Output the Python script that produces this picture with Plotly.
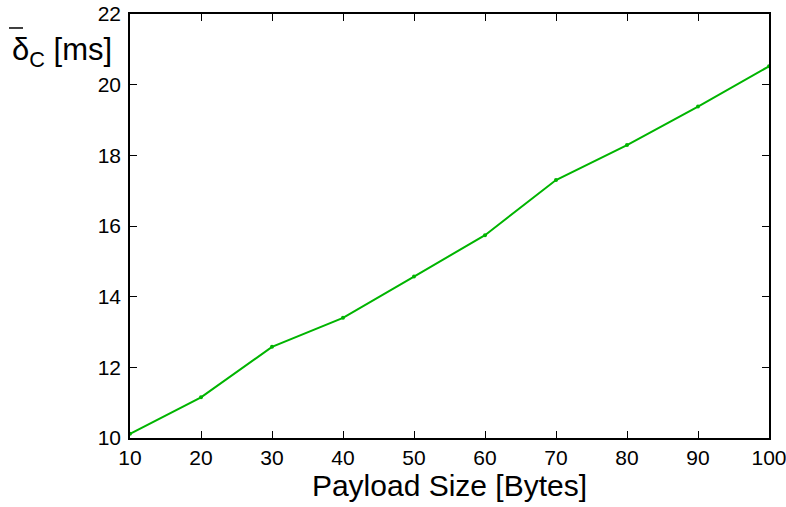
import plotly.graph_objects as go

payload = [10, 20, 30, 40, 50, 60, 70, 80, 90, 100]
delay_ms = [10.12, 11.15, 12.58, 13.40, 14.57, 15.74, 17.30, 18.29, 19.38, 20.52]
x_ticks = [10, 20, 30, 40, 50, 60, 70, 80, 90, 100]
y_ticks = [10, 12, 14, 16, 18, 20, 22]

FONT = "Liberation Sans, Arial, Helvetica, sans-serif"

fig = go.Figure()
fig.add_trace(go.Scatter(
    x=payload, y=delay_ms, mode="lines+markers",
    line=dict(color="rgb(0,180,0)", width=2),
    marker=dict(color="rgb(0,180,0)", size=4),
    showlegend=False,
))

axis_common = dict(
    showgrid=False, zeroline=False, showline=True, linecolor="black", linewidth=1.5,
    mirror="ticks", ticks="inside", ticklen=7, tickwidth=1, tickcolor="black",
    tickfont=dict(family=FONT, size=21, color="black"), automargin=False,
    ticklabeloverflow="allow",
)

fig.update_xaxes(range=[10, 100], tickvals=x_ticks,
                 title=dict(text="Payload Size [Bytes]", font=dict(family=FONT, size=30, color="black"), standoff=0),
                 **axis_common)
fig.update_yaxes(range=[10, 22], tickvals=y_ticks, ticklabelstandoff=3, **axis_common)

fig.add_annotation(xref="paper", yref="paper", x=-0.2, y=1.0, xanchor="left", yanchor="top",
                   text="δ<sub>C</sub> [ms]", showarrow=False,
                   font=dict(family=FONT, size=31, color="black"), xshift=8, yshift=-16)
fig.add_shape(type="line", xref="paper", yref="paper",
              x0=-0.1894, x1=-0.1674, y0=0.967, y1=0.967,
              line=dict(color="black", width=1.5))

fig.update_layout(
    width=786, height=507,
    margin=dict(l=130, r=17, t=14, b=69),
    plot_bgcolor="white", paper_bgcolor="white",
    font=dict(family=FONT, color="black"),
)

fig.write_html("out.html")
